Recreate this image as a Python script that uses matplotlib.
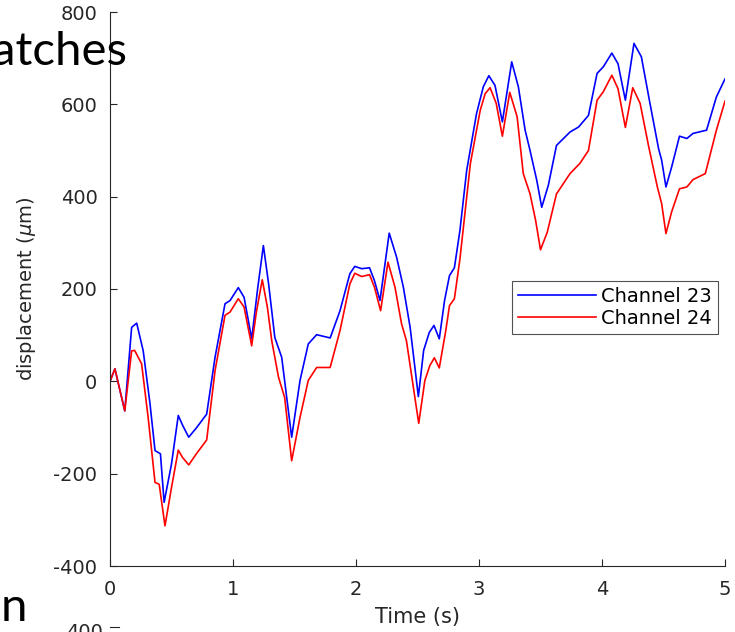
import numpy as np
import matplotlib.pyplot as plt
from matplotlib.lines import Line2D

# data (time in s, displacement in um)
t_ch23 = [0.0, 0.04, 0.12, 0.176, 0.217, 0.27, 0.325, 0.366, 0.41, 0.44, 0.50, 0.555,
          0.59, 0.64, 0.705, 0.786, 0.854, 0.935, 0.976, 1.043, 1.09, 1.152, 1.20, 1.247,
          1.29, 1.34, 1.396, 1.477, 1.545, 1.612, 1.68, 1.79, 1.87, 1.95, 1.99, 2.046,
          2.11, 2.15, 2.195, 2.27, 2.33, 2.385, 2.44, 2.507, 2.55, 2.596, 2.634, 2.677,
          2.72, 2.76, 2.80, 2.845, 2.90, 2.98, 3.035, 3.08, 3.13, 3.19, 3.266, 3.32,
          3.375, 3.415, 3.47, 3.51, 3.564, 3.63, 3.74, 3.81, 3.89, 3.96, 4.01, 4.08,
          4.13, 4.19, 4.26, 4.32, 4.39, 4.46, 4.485, 4.52, 4.566, 4.63, 4.69, 4.74,
          4.85, 4.93, 5.0]
ch23 = [0, 27, -64, 117, 126, 66, -48, -150, -157, -262, -179, -74,
        -95, -121, -100, -71, 52, 168, 175, 203, 182, 92, 200, 294,
        210, 95, 52, -121, 2, 81, 101, 94, 153, 233, 249, 244,
        246, 218, 175, 321, 269, 204, 117, -33, 67, 106, 121, 92,
        175, 229, 246, 327, 457, 580, 638, 662, 641, 562, 692, 638,
        544, 500, 435, 377, 425, 511, 540, 551, 576, 667, 681, 711,
        688, 609, 732, 703, 602, 504, 479, 421, 464, 531, 526, 537,
        544, 616, 655]

t_ch24 = [0.0, 0.04, 0.12, 0.176, 0.2, 0.257, 0.31, 0.366, 0.40, 0.447, 0.50, 0.555,
          0.59, 0.64, 0.705, 0.786, 0.854, 0.935, 0.976, 1.043, 1.09, 1.152, 1.19,
          1.238, 1.28, 1.315, 1.37, 1.42, 1.477, 1.545, 1.612, 1.68, 1.79, 1.87, 1.95,
          1.99, 2.046, 2.11, 2.15, 2.2, 2.26, 2.317, 2.37, 2.41, 2.51, 2.56, 2.60,
          2.637, 2.677, 2.73, 2.76, 2.80, 2.845, 2.93, 3.01, 3.05, 3.09, 3.14, 3.19,
          3.25, 3.31, 3.36, 3.415, 3.46, 3.50, 3.555, 3.63, 3.74, 3.82, 3.89, 3.96,
          4.01, 4.08, 4.13, 4.19, 4.25, 4.31, 4.38, 4.45, 4.485, 4.52, 4.566, 4.63,
          4.69, 4.74, 4.84, 4.93, 5.0]
ch24 = [0, 27, -64, 66, 67, 38, -78, -219, -223, -313, -230, -149,
        -165, -181, -156, -127, 23, 143, 150, 179, 161, 77, 150,
        220, 160, 88, 9, -35, -172, -78, 2, 30, 30, 110, 211,
        234, 227, 231, 204, 153, 258, 204, 125, 88, -91, 2, 34,
        51, 29, 110, 164, 179, 265, 472, 587, 623, 636, 602, 531,
        626, 573, 450, 406, 349, 285, 323, 406, 450, 472, 500, 609,
        627, 663, 634, 550, 636, 602, 508, 421, 385, 320, 367, 417,
        421, 437, 450, 544, 607]

labels = ['Channel 23', 'Channel 24']
x_ticks = [0, 1, 2, 3, 4, 5]
y_ticks = [-400, -200, 0, 200, 400, 600, 800]

plt.rcParams['axes.unicode_minus'] = False
grey = '#262626'
W, H = 735, 632
fig = plt.figure(figsize=(W / 100, H / 100), dpi=100)
ax = fig.add_axes([110 / W, 1 - 566 / H, 615 / W, 554 / H])

ax.plot(t_ch23, ch23, color='#0000ff', lw=1.2, label=labels[0])
ax.plot(t_ch24, ch24, color='#ff0000', lw=1.2, label=labels[1])

ax.set_xlim(0, 5)
ax.set_ylim(-400, 800)
ax.set_xticks(x_ticks)
ax.set_yticks(y_ticks)
ax.tick_params(direction='in', length=5, width=0.8, colors=grey, labelsize=14)
ax.tick_params(axis='x', pad=10)
ax.tick_params(axis='y', pad=9)
for s in ['top', 'right']:
    ax.spines[s].set_visible(False)
for s in ['left', 'bottom']:
    ax.spines[s].set_color(grey)
    ax.spines[s].set_linewidth(0.8)

ax.set_xlabel('Time (s)', fontsize=15, color=grey, labelpad=6)
ax.set_ylabel(r'displacement ($\mu$m)', fontsize=14, color=grey)
ax.yaxis.set_label_coords(-72 / 615, 0.5)

leg = ax.legend(loc='upper left', bbox_to_anchor=(512 / W, 1 - 281 / H),
                bbox_transform=fig.transFigure, fontsize=14, frameon=True,
                fancybox=False, edgecolor=grey, handlelength=4.0,
                handletextpad=0.3, borderpad=0.3, labelspacing=0.15,
                borderaxespad=0)
leg.get_frame().set_linewidth(0.8)

# bits of the surrounding slide that were cut into the picture
fig.text(128 / W, 1 - 65 / H, 'Matches', fontsize=34, family='Lato',
         ha='right', va='baseline', color='black')
fig.text(27 / W, 1 - 621 / H, 'n', fontsize=34, family='Lato',
         ha='right', va='baseline', color='black')
fig.text(103 / W, 1 - 623 / H, '400', fontsize=14, color=grey,
         ha='right', va='top')
fig.add_artist(Line2D([110 / W, 119 / W], [1 - 627 / H, 1 - 627 / H],
                      color=grey, lw=0.8))

fig.savefig('out.png', dpi=100)
